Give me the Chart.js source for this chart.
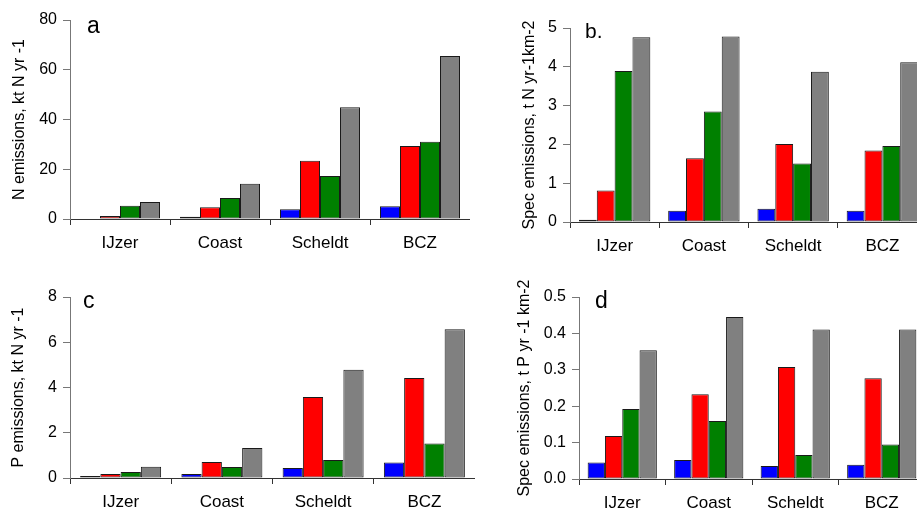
<!DOCTYPE html>
<html>
<head>
<meta charset="utf-8">
<script src="https://cdn.jsdelivr.net/npm/chart.js@4/dist/chart.umd.min.js"></script>
<style>
  html, body { margin: 0; padding: 0; background: #fff; width: 917px; height: 513px; overflow: hidden; }
  .panel { position: absolute; }
  #boxA { left: 0; top: 0; width: 470px; height: 260px; }
  #boxB { left: 470px; top: 0; width: 460px; height: 260px; }
  #boxC { left: 0; top: 260px; width: 475px; height: 253px; }
  #boxD { left: 470px; top: 260px; width: 460px; height: 253px; }
</style>
</head>
<body>
<div class="panel" id="boxA"><canvas id="chartA"></canvas></div>
<div class="panel" id="boxB"><canvas id="chartB"></canvas></div>
<div class="panel" id="boxC"><canvas id="chartC"></canvas></div>
<div class="panel" id="boxD"><canvas id="chartD"></canvas></div>
<script>
// Categories shared by all panels
const regions = ['IJzer', 'Coast', 'Scheldt', 'BCZ'];

// a. N emissions, kt N / yr
const aBlue  = [0, 0.9, 3.9, 5.1];
const aRed   = [1.2, 4.7, 23.4, 29.3];
const aGreen = [5.3, 8.4, 17.3, 31.1];
const aGray  = [6.8, 14.2, 44.9, 65.5];

// b. specific N emissions, t N / yr / km2
const bBlue  = [0.06, 0.29, 0.34, 0.29];
const bRed   = [0.81, 1.64, 2.01, 1.84];
const bGreen = [3.89, 2.85, 1.51, 1.96];
const bGray  = [4.76, 4.78, 3.87, 4.12];

// c. P emissions
const cBlue  = [0.09, 0.18, 0.44, 0.68];
const cRed   = [0.18, 0.71, 3.58, 4.42];
const cGreen = [0.27, 0.49, 0.80, 1.53];
const cGray  = [0.50, 1.33, 4.79, 6.57];

// d. specific P emissions, t P / yr / km2
const dBlue  = [0.045, 0.052, 0.036, 0.039];
const dRed   = [0.118, 0.233, 0.308, 0.277];
const dGreen = [0.192, 0.159, 0.066, 0.095];
const dGray  = [0.354, 0.445, 0.411, 0.411];

const seriesColors = ['#0000ff', '#ff0000', '#008000', '#808080'];
const FONT = "'Liberation Sans', Arial, sans-serif";

// draws the panel letter inside the plot area
const panelLetter = {
  id: 'panelLetter',
  afterDraw(chart, args, opts) {
    const ctx = chart.ctx;
    const area = chart.chartArea;
    ctx.save();
    ctx.fillStyle = '#000';
    ctx.font = opts.size + 'px ' + FONT;
    ctx.textBaseline = 'alphabetic';
    ctx.fillText(opts.text, area.left + opts.dx, area.top + opts.dy);
    ctx.restore();
  }
};

function makePanel(canvasId, cfg) {
  const datasets = cfg.series.map((vals, i) => ({
    label: 'Series ' + (i + 1),
    data: vals,
    backgroundColor: seriesColors[i],
    borderColor: '#1a1a1a',
    borderWidth: 1,
    borderSkipped: false,
    categoryPercentage: 0.8,
    barPercentage: 1.0
  }));

  return new Chart(document.getElementById(canvasId), {
    type: 'bar',
    data: { labels: regions, datasets: datasets },
    plugins: [panelLetter],
    options: {
      responsive: true,
      maintainAspectRatio: false,
      animation: false,
      layout: { padding: { left: cfg.padLeft, top: cfg.padTop, right: cfg.padRight, bottom: 0 } },
      plugins: {
        legend: { display: false },
        tooltip: { enabled: false },
        panelLetter: cfg.letter
      },
      scales: {
        x: {
          grid: { offset: true, drawOnChartArea: false, drawTicks: true, tickLength: 6, color: '#333' },
          border: { color: '#333', width: 1 },
          ticks: { color: '#000', font: { family: FONT, size: 17 }, padding: 8, maxRotation: 0 },
          afterFit: (s) => { s.height = cfg.xHeight; }
        },
        y: {
          min: 0,
          max: cfg.max,
          grid: { drawOnChartArea: false, drawTicks: true, tickLength: 7, color: '#777' },
          border: { color: '#777', width: 1 },
          ticks: {
            stepSize: cfg.step,
            color: '#000',
            padding: 6,
            font: { family: FONT, size: 16 },
            callback: (v) => cfg.decimals ? Number(v).toFixed(cfg.decimals) : v
          },
          title: {
            display: true,
            text: cfg.yTitle,
            color: '#000',
            font: { family: FONT, size: 16 },
            padding: { top: cfg.titlePad, bottom: 0 }
          },
          afterFit: (s) => { s.width = cfg.yWidth; }
        }
      }
    }
  });
}

makePanel('chartA', {
  series: [aBlue, aRed, aGreen, aGray],
  max: 80, step: 20, decimals: 0,
  yTitle: 'N emissions, kt N yr -1',
  padLeft: 0, padTop: 20, padRight: 0, yWidth: 70, xHeight: 41, titlePad: 10,
  letter: { text: 'a', size: 23, dx: 17, dy: 13 }
});

makePanel('chartB', {
  series: [bBlue, bRed, bGreen, bGray],
  max: 5, step: 1, decimals: 0,
  yTitle: 'Spec emissions, t N yr-1km-2',
  padLeft: 50, padTop: 28, padRight: 3, yWidth: 50, xHeight: 38, titlePad: 0,
  letter: { text: 'b.', size: 21, dx: 15, dy: 10 }
});

makePanel('chartC', {
  series: [cBlue, cRed, cGreen, cGray],
  max: 8, step: 2, decimals: 0,
  yTitle: 'P emissions, kt N yr -1',
  padLeft: 0, padTop: 37, padRight: 0, yWidth: 70, xHeight: 35, titlePad: 9,
  letter: { text: 'c', size: 23, dx: 13, dy: 11 }
});

makePanel('chartD', {
  series: [dBlue, dRed, dGreen, dGray],
  max: 0.5, step: 0.1, decimals: 1,
  yTitle: 'Spec emissions, t P yr -1 km-2',
  padLeft: 45, padTop: 37, padRight: 5, yWidth: 64, xHeight: 34, titlePad: 0,
  letter: { text: 'd', size: 23, dx: 16, dy: 11 }
});
</script>
</body>
</html>
